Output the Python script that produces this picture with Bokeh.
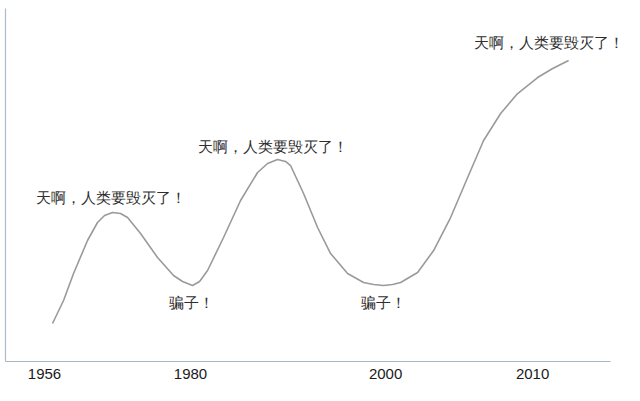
from bokeh.plotting import figure
from bokeh.models import Range1d, FixedTicker, ColumnDataSource, LabelSet
from bokeh.embed import file_html
from bokeh.resources import INLINE

# Timeline position (0-100 across the axis) and "alarm level" (0-100)
curve_x = [7.31, 9.14, 10.80, 13.12, 14.78, 15.95, 17.28, 18.60, 19.77, 21.93,
           24.75, 27.41, 28.90, 30.56, 31.73, 33.06, 35.71, 38.54, 41.36, 43.02,
           44.68, 46.01, 46.84, 49.00, 51.33, 53.49, 56.31, 58.97, 60.63, 62.29,
           63.79, 65.12, 67.94, 70.60, 73.42, 76.25, 78.90, 81.73, 84.55, 87.87,
           90.37, 93.02]
curve_y = [10.76, 17.28, 24.93, 34.28, 39.38, 41.36, 42.21, 41.93, 40.79, 36.26,
           29.46, 24.36, 22.66, 21.53, 22.66, 25.78, 35.13, 45.61, 53.54, 56.09,
           57.22, 56.66, 55.52, 47.59, 37.96, 30.59, 24.93, 22.38, 21.81, 21.53,
           21.81, 22.38, 25.21, 31.44, 40.79, 52.12, 62.61, 70.25, 75.92, 80.45,
           83.00, 85.27]

tick_pos = [5.98, 30.23, 62.62, 87.04]
tick_labels = ["1956", "1980", "2000", "2010"]
axis_end = 100

ann_text = ["天啊，人类要毁灭了！", "骗子！", "天啊，人类要毁灭了！", "骗子！", "天啊，人类要毁灭了！"]
ann_idx = [6, 13, 20, 29, 41]          # which curve point each note belongs to
ann_dx = [-2, -1, -5, 0, -20]           # screen offsets (px), right
ann_dy = [14, -18, 13, -18, 17]         # screen offsets (px), up

p = figure(width=624, height=385, output_backend="svg", toolbar_location=None,
           x_range=Range1d(-0.5, 102.3), y_range=Range1d(0, 100),
           min_border_left=5, min_border_right=0, min_border_top=8, min_border_bottom=24)
p.outline_line_color = None
p.xgrid.visible = False
p.ygrid.visible = False
p.background_fill_color = "white"
p.border_fill_color = "white"

# x axis
p.xaxis.bounds = (-0.5, axis_end)
p.xaxis.ticker = FixedTicker(ticks=tick_pos)
p.xaxis.major_label_overrides = {t: l for t, l in zip(tick_pos, tick_labels)}
p.xaxis.major_tick_line_color = None
p.xaxis.minor_tick_line_color = None
p.xaxis.major_tick_out = 0
p.xaxis.major_tick_in = 0
p.xaxis.major_label_standoff = 7
p.xaxis.major_label_text_font = "Liberation Sans"
p.xaxis.major_label_text_font_size = "15px"
p.xaxis.major_label_text_color = "#1a1a1a"
p.xaxis.axis_line_color = "#aab6bf"
p.xaxis.axis_line_width = 1.2

# y axis: bare line
p.yaxis.ticker = FixedTicker(ticks=[])
p.yaxis.major_tick_line_color = None
p.yaxis.minor_tick_line_color = None
p.yaxis.major_tick_out = 0
p.yaxis.major_tick_in = 0
p.yaxis.major_label_standoff = 0
p.yaxis.axis_line_color = "#a9bccb"
p.yaxis.axis_line_width = 1.2

p.line(curve_x, curve_y, line_color="#9a9a9a", line_width=1.6)

src = ColumnDataSource(dict(
    x=[curve_x[i] for i in ann_idx],
    y=[curve_y[i] for i in ann_idx],
    t=ann_text, dx=ann_dx, dy=ann_dy))
labels = LabelSet(x="x", y="y", text="t", x_offset="dx", y_offset="dy", source=src,
                  text_align="center", text_baseline="middle",
                  text_font="Noto Sans CJK SC", text_font_size="15px",
                  text_color="#2e2e2e")
p.add_layout(labels)

open("out.html", "w").write(file_html(p, INLINE))
